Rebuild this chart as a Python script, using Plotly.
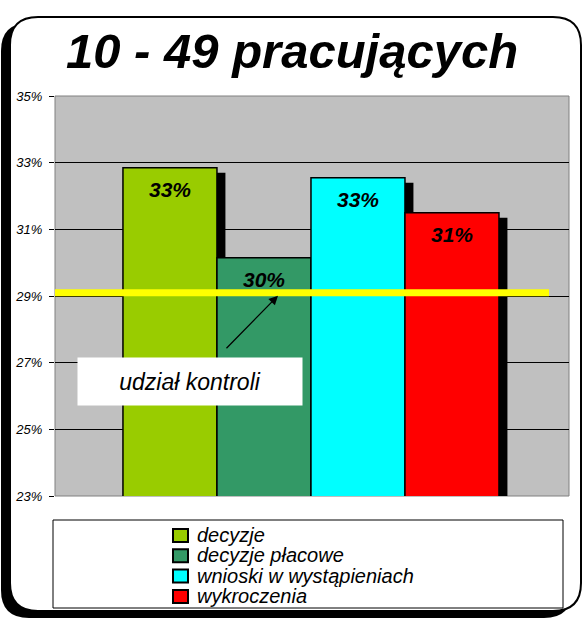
import plotly.graph_objects as go

# dane
series = ["decyzje", "decyzje płacowe", "wnioski w wystąpieniach", "wykroczenia"]
values = [32.85, 30.15, 32.55, 31.5]
labels = ["33%", "30%", "33%", "31%"]
colors = ["#99CC00", "#339966", "#00FFFF", "#FF0000"]
tick_vals = [23, 25, 27, 29, 31, 33, 35]
tick_text = ["23%", "25%", "27%", "29%", "31%", "33%", "35%"]
control_share = 29.1
title = "10 - 49 pracujących"
note = "udział kontroli"

W, H = 584, 618
L, R, T, B = 55, 569, 96, 496   # plot area in pixels


def px(x):
    return (x - L) / (R - L)


def py(y):
    return (B - y) / (B - T)


def rrect(x0, y0, x1, y1, r):
    # rounded rectangle path in paper coords, built from pixel corners
    pts = [("M", [(x0 + r, y0)]), ("L", [(x1 - r, y0)]), ("Q", [(x1, y0), (x1, y0 + r)]),
           ("L", [(x1, y1 - r)]), ("Q", [(x1, y1), (x1 - r, y1)]), ("L", [(x0 + r, y1)]),
           ("Q", [(x0, y1), (x0, y1 - r)]), ("L", [(x0, y0 + r)]), ("Q", [(x0, y0), (x0 + r, y0)])]
    out = []
    for cmd, pp in pts:
        out.append(cmd + " ".join("%.5f,%.5f" % (px(a), py(b)) for a, b in pp))
    return " ".join(out) + " Z"


fig = go.Figure()

# cienie słupków
fig.add_trace(go.Bar(x=series, y=[v - 0.15 for v in values], width=1, offset=-0.5 + 0.09,
                     marker=dict(color="black", line=dict(width=0)),
                     showlegend=False, hoverinfo="skip"))

for name, v, c in zip(series, values, colors):
    fig.add_trace(go.Bar(x=[name], y=[v], width=1, name=name,
                         marker=dict(color=c, line=dict(color="black", width=1.5))))

shapes = [
    dict(type="path", xref="paper", yref="paper", layer="below",
         path=rrect(1, 23, 572, 618, 28), fillcolor="black", line=dict(width=0)),
    dict(type="path", xref="paper", yref="paper", layer="below",
         path=rrect(10, 17, 581, 611, 28), fillcolor="white", line=dict(color="black", width=2)),
    dict(type="rect", xref="paper", yref="paper", layer="below", x0=0, x1=1, y0=0, y1=1,
         fillcolor="#C0C0C0", line=dict(color="#808080", width=1)),
    dict(type="line", xref="paper", yref="y", x0=0, x1=px(549), y0=control_share, y1=control_share,
         line=dict(color="#FFFF00", width=7)),
    dict(type="rect", xref="paper", yref="paper", layer="below",
         x0=px(53), x1=px(563), y0=py(520), y1=py(608), fillcolor="white", line=dict(color="black", width=1)),
]

annotations = [
    dict(text="<b><i>" + title + "</i></b>", xref="paper", yref="paper", x=px(292), y=py(51),
         xanchor="center", yanchor="middle",
         showarrow=False, font=dict(size=49, color="black", family="Liberation Sans")),
    dict(text="<i>" + note + "</i>", xref="paper", yref="paper", x=px(190), y=py(381),
         xanchor="center", yanchor="middle",
         showarrow=False, bgcolor="white", width=222, height=45,
         font=dict(size=23, color="black", family="Liberation Sans")),
    dict(text="", xref="paper", yref="y", x=px(278), y=control_share, yshift=-3,
         ax=-53, ay=54, showarrow=True, arrowhead=2, arrowsize=1.4, arrowwidth=1.3, arrowcolor="black"),
]

# etykiety wartości
for name, v, lab in zip(series, values, labels):
    annotations.append(dict(text="<b><i>" + lab + "</i></b>", x=name, y=v, yshift=-22,
                            xanchor="center", yanchor="middle",
                            showarrow=False, font=dict(size=21, color="black", family="Liberation Sans")))

# legenda
for i, (name, c) in enumerate(zip(series, colors)):
    yc = 535 + 20.3 * i
    shapes.append(dict(type="rect", xref="paper", yref="paper", x0=px(173), x1=px(188),
                       y0=py(yc + 7), y1=py(yc - 6), fillcolor=c, line=dict(color="black", width=2)))
    annotations.append(dict(text="<i>" + name + "</i>", xref="paper", yref="paper", x=px(195), y=py(yc),
                            xanchor="left", yanchor="middle", showarrow=False,
                            font=dict(size=20, color="black", family="Liberation Sans")))

fig.update_layout(
    width=W, height=H, autosize=False,
    margin=dict(l=L, r=W - R, t=T, b=H - B, pad=0),
    paper_bgcolor="white", plot_bgcolor="rgba(0,0,0,0)",
    barmode="overlay", showlegend=False,
    shapes=shapes, annotations=annotations,
    font=dict(family="Liberation Sans", color="black"),
)
fig.update_xaxes(type="category", range=[-1.223, 4.245], showticklabels=False, showgrid=False,
                 zeroline=False, showline=False, ticks="")
fig.update_yaxes(range=[23, 35], tickvals=tick_vals, ticktext=["<i>" + t + "</i>" for t in tick_text],
                 showgrid=True, gridcolor="black", gridwidth=1, zeroline=False,
                 showline=False, ticks="outside", ticklen=5, tickcolor="black",
                 ticklabelstandoff=4, tickfont=dict(size=13, color="black"))

# bez marginesu strony, żeby wykres zaczynał się w (0,0)
fig.write_html("out.html", config={"displayModeBar": False},
               post_script="document.body.style.margin='0';")
